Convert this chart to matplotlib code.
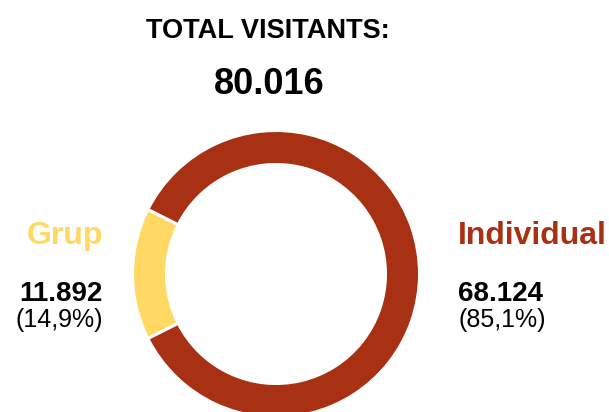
import matplotlib.pyplot as plt

# data
categories = ['Grup', 'Individual']
visitants = [11892, 68124]
colors = ['#FFD963', '#A83013']

total = sum(visitants)


def fmt_int(v):
    return f'{v:,}'.replace(',', '.')


def fmt_pct(v):
    return f'({v * 100 / total:.1f}%)'.replace('.', ',')


plt.rcParams['font.family'] = ['Liberation Sans', 'DejaVu Sans']

W, H = 609, 412
fig = plt.figure(figsize=(W / 100, H / 100), dpi=100)
ax = fig.add_axes([0, 0, 1, 1])

# donut, Grup centred on the left side
share = visitants[0] / total * 360
ax.pie(visitants, colors=colors, startangle=180 - share / 2, counterclock=True,
       center=(276, H - 274), radius=143.5,
       wedgeprops=dict(width=34, edgecolor='white', linewidth=2.2))
ax.set_xlim(0, W)
ax.set_ylim(0, H)
ax.set_aspect('auto')
ax.axis('off')

ax.text(268, H - 38, 'TOTAL VISITANTS:', ha='center', va='baseline',
        fontsize=19.5, fontweight='bold', color='black')
ax.text(269, H - 94, fmt_int(total), ha='center', va='baseline',
        fontsize=26, fontweight='bold', color='black')

# left label (Grup)
ax.text(103, H - 244, categories[0], ha='right', va='baseline',
        fontsize=23, fontweight='bold', color=colors[0])
ax.text(103, H - 301, fmt_int(visitants[0]), ha='right', va='baseline',
        fontsize=20, fontweight='bold', color='black')
ax.text(103, H - 327, fmt_pct(visitants[0]), ha='right', va='baseline',
        fontsize=18, color='black')

# right label (Individual)
ax.text(458, H - 244, categories[1], ha='left', va='baseline',
        fontsize=23, fontweight='bold', color=colors[1])
ax.text(458, H - 301, fmt_int(visitants[1]), ha='left', va='baseline',
        fontsize=20, fontweight='bold', color='black')
ax.text(458, H - 327, fmt_pct(visitants[1]), ha='left', va='baseline',
        fontsize=18, color='black')

fig.savefig('out.png', dpi=100)
